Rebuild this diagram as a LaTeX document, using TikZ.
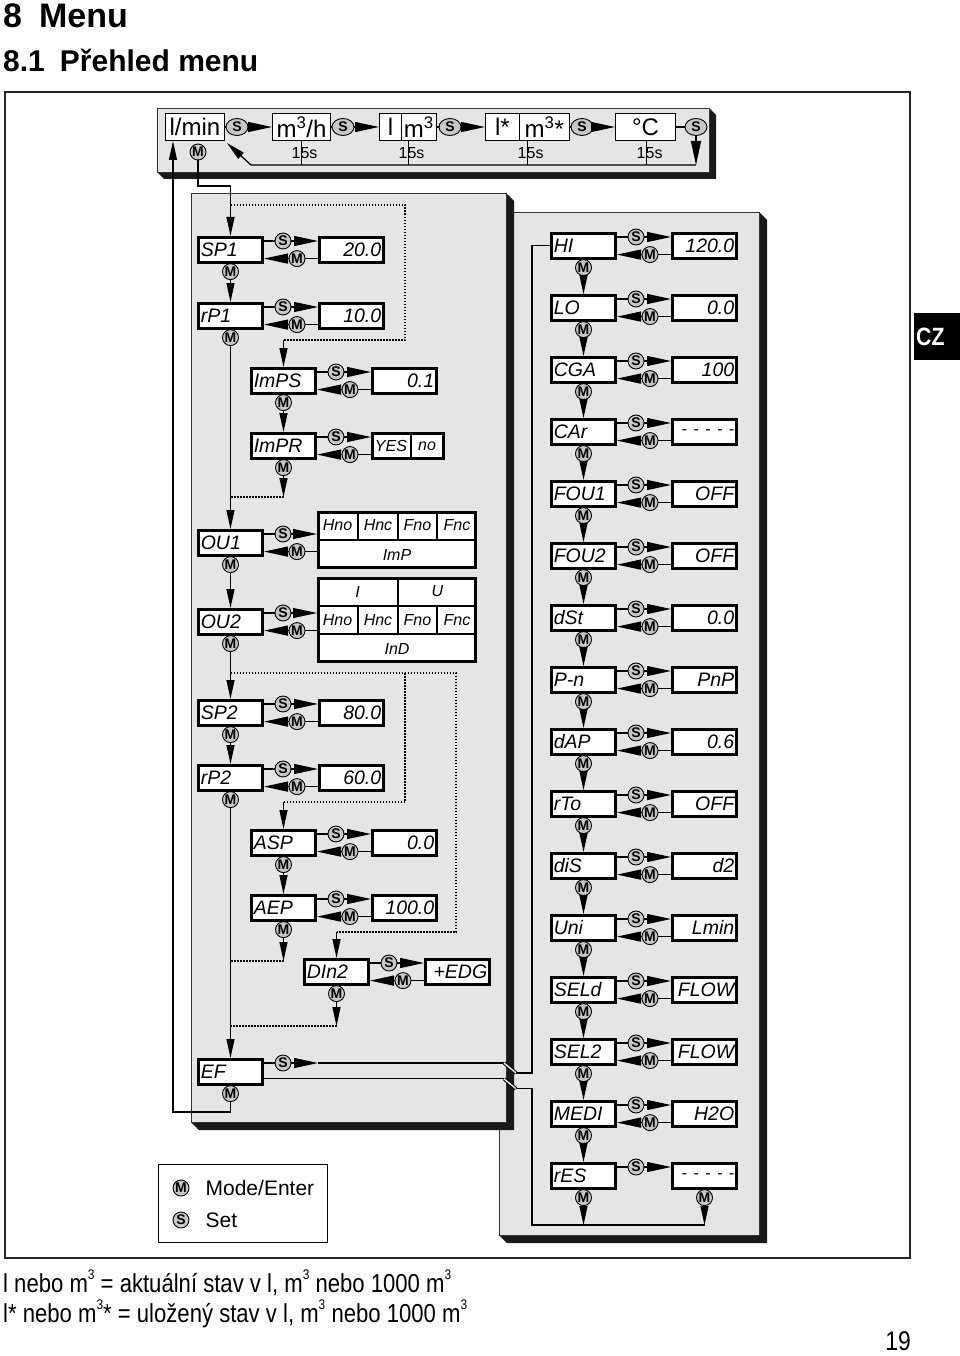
\documentclass[tikz,border=0pt]{standalone}
\usepackage{fontspec}
\setmainfont{Liberation Sans}
\newfontfamily\lcdfont{Liberation Sans}
\newfontfamily\narrowfont{Liberation Sans}[FakeStretch=0.85]
\usetikzlibrary{arrows.meta}
\usetikzlibrary{positioning}
\usetikzlibrary{shapes}
\usetikzlibrary{calc}

\definecolor{panelgray}{gray}{0.9}
\definecolor{keygray}{gray}{0.78}

\newcommand{\smallcube}{\raisebox{0.5em}{\fontsize{14}{14}\selectfont 3}}

\begin{document}
\begin{tikzpicture}[
	x=1pt, y=-1pt,
	panel/.style={fill=panelgray, draw=black!80, line width=0.9pt},
	panelshadow/.style={fill=black!90},
	lcd/.style={draw, fill=white, line width=2.6pt, minimum height=25pt,
		inner xsep=2.5pt, inner ysep=0pt, text width=59.4pt, anchor=north west,
		font=\lcdfont\itshape\fontsize{19.5}{19.5}\selectfont},
	parbox/.style={lcd, align=left},
	valbox/.style={lcd, align=right},
	cell/.style={inner sep=0pt, font=\lcdfont\itshape\fontsize{16}{16}\selectfont},
	button/.style={circle, draw, fill=keygray, line width=0.9pt, minimum size=16pt,
		inner sep=0pt, font=\bfseries\fontsize{14}{14}\selectfont},
	topbutton/.style={button, ellipse, minimum width=22pt, minimum height=17pt},
	topbox/.style={draw, fill=white, line width=1.4pt, minimum height=26.6pt,
		inner sep=0pt, anchor=west, font=\fontsize{24}{24}\selectfont},
	link/.style={line width=1.2pt},
	wedge/.style={link, -{Triangle[length=24pt,width=10pt]}},
	dwedge/.style={link, -{Triangle[length=19pt,width=8pt]}},
	dotline/.style={line width=1.5pt, dash pattern=on 1.5pt off 1.5pt},
	crossing/.style={line width=1pt, draw=black, double=panelgray, double distance=1.5pt},
	]

\useasboundingbox (0,0) rectangle (960,1356);

% parameter box, value box, S/M keys between them, M key below
\def\MenuPar#1#2#3#4{\node[parbox] (#1) at (#2,#3) {#4};}
\def\MenuVal#1#2{\node[valbox] (#1-v) at ([xshift=54pt]#1.north east) {#2};}
\def\MenuLink#1#2{%
	\node[button] (#1-s) at ([xshift=19pt,yshift=-5pt]#1.north east) {S};
	\node[button] (#1-m) at ([xshift=33pt,yshift=5pt]#1.south east) {M};
	\draw[link] (#1.east |- #1-s) -- (#1-s);
	\draw[wedge] (#1-s) -- (#2.west |- #1-s);
	\draw[link] (#2.west |- #1-m) -- (#1-m);
	\draw[wedge] (#1-m) -- (#1.east |- #1-m);}
\def\MenuDown#1{\node[button] (#1-d) at ([yshift=-8pt]#1.south) {M};}
\def\Dashes{{\fontsize{16}{16}\selectfont\mbox{- - - - -}}}

% headings
\node[anchor=base west, inner sep=0pt, font=\bfseries\fontsize{34}{40}\selectfont]
	(title) at (3,28) {8\hspace{17pt}Menu};
\node[anchor=base west, inner sep=0pt, font=\bfseries\fontsize{30}{36}\selectfont]
	(subtitle) at (3,72) {8.1\hspace{15pt}Přehled menu};

% page frame and language tab
\draw[line width=2.2pt, black!85] (5,92) rectangle (910,1258);
\node[fill=black, anchor=north west, minimum width=46pt, minimum height=47pt,
	inner sep=0pt] (tab) at (914,313) {};
\node[anchor=west, inner sep=0pt, text=white,
	font=\narrowfont\bfseries\fontsize{25}{25}\selectfont] (cz) at (916,337) {CZ};

% right panel (lies behind the left one)
\fill[panelshadow] (759,212) -- (767,220) -- (767,1243) -- (507,1243) -- (499,1235) -- cycle;
\draw[panel] (499,212) rectangle (759,1235);

% left panel
\fill[panelshadow] (506,193) -- (514,201) -- (514,1130) -- (199,1130) -- (191,1122) -- cycle;
\draw[panel] (191,193) rectangle (506,1122);

% top bar
\fill[panelshadow] (709,108) -- (716,115) -- (716,179) -- (164,179) -- (157,172) -- cycle;
\draw[panel] (157,108) rectangle (709,172);

% units in the top bar
\node[topbox, minimum width=58.6pt] (lmin) at (165,127) {l/min};
\node[topbox, minimum width=57.6pt] (mh) at (272,127) {m\textsuperscript{3}/h};
\node[topbox, minimum width=21.6pt] (la) at (379,127) {l};
\node[topbox, minimum width=35pt] (ma) at (400.6,127) {m\textsuperscript{3}};
\node[topbox, minimum width=33.6pt] (ls) at (485,127) {l*};
\node[topbox, minimum width=50pt] (ms) at (518.6,127) {m\textsuperscript{3}*};
\node[topbox, minimum width=59.6pt] (deg) at (615,127) {°C};

\node[topbutton] (ts1) at (237,127) {S};
\node[topbutton] (ts2) at (343,127) {S};
\node[topbutton] (ts3) at (450,127) {S};
\node[topbutton] (ts4) at (582,127) {S};
\node[topbutton] (ts5) at (696,127) {S};
\draw[link] (lmin) -- (ts1);
\draw[wedge] (ts1) -- (mh);
\draw[link] (mh) -- (ts2);
\draw[wedge] (ts2) -- (la);
\draw[link] (ma) -- (ts3);
\draw[wedge] (ts3) -- (ls);
\draw[link] (ms) -- (ts4);
\draw[wedge] (ts4) -- (deg);
\draw[link] (deg) -- (ts5);

% return to l/min
\coordinate (ret-r) at (696,165);
\coordinate (ret-l) at (251,165);
\draw[wedge] (ts5) -- (ret-r);
\draw[dwedge] (ret-r) -- (ret-l) -- ([shift={(2,2)}]lmin.south east);

% 15 s timeouts
\foreach \tx/\tn in {301/a, 408/b, 527/c, 646/d} {
	\draw[line width=1pt] (\tx,141) -- (\tx,165);
	\node[anchor=west, inner sep=0pt, font=\fontsize{16}{16}\selectfont]
		(t15\tn) at (\tx-9.5,153) {15s};
}

\node[button] (lmin-m) at (198,152) {M};

% left column
\MenuPar{sp1}{197}{236}{SP1}
\MenuVal{sp1}{20.0}
\MenuLink{sp1}{sp1-v}
\MenuDown{sp1}

\MenuPar{rp1}{197}{302}{rP1}
\MenuVal{rp1}{10.0}
\MenuLink{rp1}{rp1-v}
\MenuDown{rp1}

\MenuPar{imps}{250}{367}{ImPS}
\MenuVal{imps}{0.1}
\MenuLink{imps}{imps-v}
\MenuDown{imps}

\MenuPar{impr}{250}{432}{ImPR}
\node[lcd, text width=66.4pt] (impr-v) at ([xshift=54pt]impr.north east) {};
\draw[line width=1.2pt] ([xshift=40pt]impr-v.north west) -- ([xshift=40pt]impr-v.south west);
\node[cell] (impr-yes) at ([xshift=20pt]impr-v.west) {YES};
\node[cell] (impr-no) at ([xshift=56pt]impr-v.west) {no};
\MenuLink{impr}{impr-v}
\MenuDown{impr}

% output 1 table
\MenuPar{ou1}{197}{529}{OU1}
\node[draw, fill=white, line width=2.6pt, minimum width=157.4pt, minimum height=55.4pt,
	anchor=north west] (ou1-v) at (317,511) {};
\draw[line width=1.2pt] (317,540) -- (477,540);
\foreach \cx in {358, 398, 437} \draw[line width=1.2pt] (\cx,511) -- (\cx,540);
\foreach \cx/\ct [count=\k] in {337.5/Hno, 378/Hnc, 417.5/Fno, 457/Fnc}
	\node[cell] (ou1-c\k) at (\cx,525.5) {\ct};
\node[cell] (ou1-imp) at (397,554.5) {ImP};
\MenuLink{ou1}{ou1-v}
\MenuDown{ou1}

% output 2 table
\MenuPar{ou2}{197}{608}{OU2}
\node[draw, fill=white, line width=2.6pt, minimum width=157.4pt, minimum height=83.4pt,
	anchor=north west] (ou2-v) at (317,577) {};
\draw[line width=1.2pt] (317,606) -- (477,606);
\draw[line width=1.2pt] (317,634) -- (477,634);
\draw[line width=1.2pt] (398,577) -- (398,606);
\foreach \cx in {358, 398, 437} \draw[line width=1.2pt] (\cx,606) -- (\cx,634);
\node[cell] (ou2-i) at (357.5,591.5) {I};
\node[cell] (ou2-u) at (437.5,591.5) {U};
\foreach \cx/\ct [count=\k] in {337.5/Hno, 378/Hnc, 417.5/Fno, 457/Fnc}
	\node[cell] (ou2-c\k) at (\cx,620) {\ct};
\node[cell] (ou2-ind) at (397,648.5) {InD};
\MenuLink{ou2}{ou2-v}
\MenuDown{ou2}

\MenuPar{sp2}{197}{699}{SP2}
\MenuVal{sp2}{80.0}
\MenuLink{sp2}{sp2-v}
\MenuDown{sp2}

\MenuPar{rp2}{197}{764}{rP2}
\MenuVal{rp2}{60.0}
\MenuLink{rp2}{rp2-v}
\MenuDown{rp2}

\MenuPar{asp}{250}{829}{ASP}
\MenuVal{asp}{0.0}
\MenuLink{asp}{asp-v}
\MenuDown{asp}

\MenuPar{aep}{250}{894}{AEP}
\MenuVal{aep}{100.0}
\MenuLink{aep}{aep-v}
\MenuDown{aep}

\MenuPar{din2}{303}{958}{DIn2}
\MenuVal{din2}{+EDG}
\MenuLink{din2}{din2-v}
\MenuDown{din2}

\MenuPar{ef}{197}{1058}{EF}
\node[button] (ef-s) at ([xshift=19pt,yshift=-5pt]ef.north east) {S};
\draw[link] (ef.east |- ef-s) -- (ef-s);
\MenuDown{ef}

% main M path on the left
\coordinate (entry) at (sp1.north |- 0,186);
\draw[dwedge] (lmin-m) |- (entry) -- (sp1);
\draw[dwedge] (sp1-d) -- (rp1);
\draw[dwedge] (rp1-d) -- (ou1);
\draw[dwedge] (imps-d) -- (impr);
\draw[dwedge] (ou1-d) -- (ou2);
\draw[dwedge] (ou2-d) -- (sp2);
\draw[dwedge] (sp2-d) -- (rp2);
\draw[dwedge] (rp2-d) -- (ef);
\draw[dwedge] (asp-d) -- (aep);

% optional branches (dotted)
\coordinate (d1a) at (sp1.north |- 0,205);
\coordinate (d1b) at (405,340);
\draw[dotline] (d1a) -| (d1b) -- (imps.north |- d1b);
\draw[dwedge] (imps.north |- d1b) -- (imps);

\coordinate (d2) at (impr.south |- 0,497);
\draw[dwedge] (impr-d) -- (d2);
\draw[dotline] (d2) -- (d2 -| sp1.south);

\coordinate (d3a) at (sp2.north |- 0,673);
\coordinate (d3b) at (456,932);
\draw[dotline] (d3a) -| (d3b) -- (din2.north |- d3b);
\draw[dwedge] (din2.north |- d3b) -- (din2);

\coordinate (d4a) at (405,673);
\coordinate (d4b) at (405,802);
\draw[dotline] (d4a) -- (d4b) -- (asp.north |- d4b);
\draw[dwedge] (asp.north |- d4b) -- (asp);

\coordinate (d5) at (aep.south |- 0,961);
\draw[dwedge] (aep-d) -- (d5);
\draw[dotline] (d5) -- (d5 -| sp1.south);

\coordinate (d6) at (din2.south |- 0,1026);
\draw[dwedge] (din2-d) -- (d6);
\draw[dotline] (d6) -- (d6 -| sp1.south);

% EF back to the top bar
\coordinate (loop-l) at (173,1112);
\draw[dwedge] (ef-d) |- (loop-l) -- (loop-l |- lmin.south);

% right column
\foreach \name/\lab/\val [count=\i from 0, remember=\name as \prev (initially hi)] in {
	hi/HI/120.0, lo/LO/0.0, cga/CGA/100, car/CAr/\Dashes,
	fou1/FOU1/OFF, fou2/FOU2/OFF, dst/dSt/0.0, pn/P-n/PnP,
	dap/dAP/0.6, rto/rTo/OFF, dis/diS/d2, uni/Uni/Lmin,
	seld/SELd/FLOW, sel2/SEL2/FLOW, medi/MEDI/H2O}
{
	\MenuPar{\name}{550}{232+62*\i}{\lab}
	\MenuVal{\name}{\val}
	\MenuLink{\name}{\name-v}
	\MenuDown{\name}
	\ifnum\i>0 \draw[dwedge] (\prev-d) -- (\name); \fi
}

\MenuPar{res}{550}{1162}{rES}
\MenuVal{res}{\Dashes}
\node[button] (res-s) at ([xshift=19pt,yshift=-5pt]res.north east) {S};
\draw[link] (res.east |- res-s) -- (res-s);
\draw[wedge] (res-s) -- (res-v.west |- res-s);
\MenuDown{res}
\MenuDown{res-v}
\draw[dwedge] (medi-d) -- (res);

% EF (S) into HI, through the panel edge
\coordinate (ef-w) at ($(ef.east |- ef-s)+(54,0)$);
\draw[wedge] (ef-s) -- (ef-w);
\coordinate (x1a) at (504,0 |- ef-s);
\coordinate (x1b) at ($(x1a)+(12,10)$);
\coordinate (x1c) at (532,0 |- x1b);
\draw[link] (ef-w) -- (x1a);
\draw[crossing] (x1a) -- (x1b);
\draw[link] (x1b) -- (x1c) |- (hi);

% rES back to EF
\coordinate (ef-o) at ([yshift=-7pt]ef.east);
\coordinate (y1a) at (504,0 |- ef-o);
\coordinate (y1b) at ($(y1a)+(12,10)$);
\coordinate (y1c) at (532,0 |- y1b);
\coordinate (bl) at (532,1225);
\coordinate (br) at (res-v.south |- bl);
\draw[link] (ef-o) -- (y1a);
\draw[crossing] (y1a) -- (y1b);
\draw[link] (y1b) -- (y1c) -- (bl) -- (br);
\draw[dwedge] (res-d) -- (res-d |- bl);
\draw[dwedge] (res-v-d) -- (br);

% legend
\node[draw, line width=1pt, anchor=north west, minimum width=169pt, minimum height=78pt,
	inner sep=0pt] (legend) at (158,1164) {};
\node[button] (leg-m) at (181,1188) {M};
\node[button] (leg-s) at (181,1220) {S};
\node[right=16pt of leg-m, inner sep=0pt, font=\fontsize{21}{21}\selectfont] (leg-mt) {Mode/Enter};
\node[right=16pt of leg-s, inner sep=0pt, font=\fontsize{21}{21}\selectfont] (leg-st) {Set};

% notes under the frame
\node[anchor=base west, inner sep=0pt, font=\narrowfont\fontsize{26}{26}\selectfont] (note1)
	at (3,1292) {l nebo m\smallcube{} = aktuální stav v l, m\smallcube{} nebo 1000 m\smallcube};
\node[anchor=base west, inner sep=0pt, font=\narrowfont\fontsize{26}{26}\selectfont] (note2)
	at (3,1322) {l* nebo m\smallcube* = uložený stav v l, m\smallcube{} nebo 1000 m\smallcube};
\node[anchor=base east, inner sep=0pt, font=\narrowfont\fontsize{27}{27}\selectfont] (pageno)
	at (911,1350) {19};

\end{tikzpicture}
\end{document}
